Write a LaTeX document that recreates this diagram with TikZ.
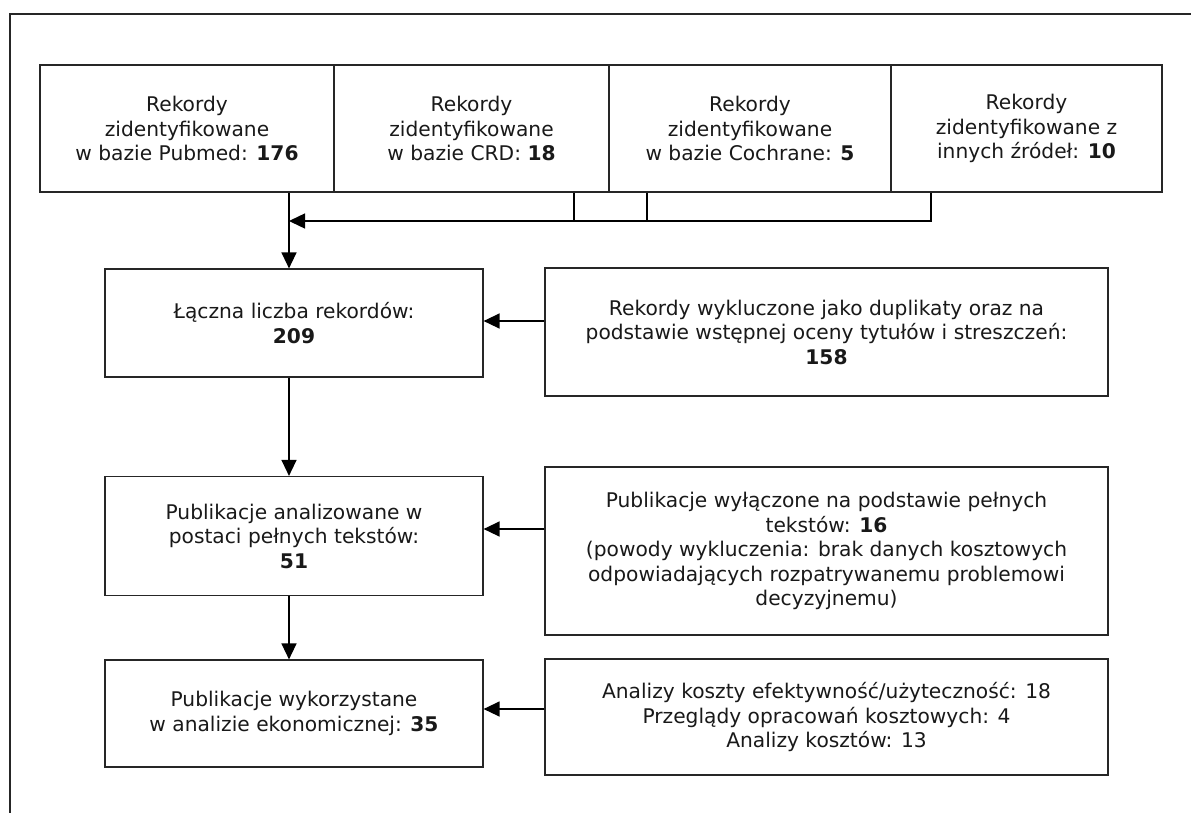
\documentclass[tikz,border=0pt]{standalone}
\usepackage{fontspec}
\setmainfont{DejaVu Sans}
\usetikzlibrary{arrows.meta}
\begin{document}
\begin{tikzpicture}[x=1pt,y=-1pt,
  box/.style={draw=black!85, line width=1.2pt, align=center, inner sep=0pt,
    font=\fontsize{20.2}{24.5}\selectfont, text=black!90},
  conn/.style={draw=black, line width=1.4pt},
  arr/.style={conn, -{Triangle[length=16pt,width=15pt]}}]
\useasboundingbox (0,0) rectangle (1191,812);
\fill[white] (0,0) rectangle (1191,812);
% outer frame (right and bottom edges lie outside the picture)
\draw[line width=1.2pt, black!85] (1195,14) -- (10,14) -- (10,816);

% top row
\node[box, minimum width=294pt, minimum height=127pt] (b1) at (187,128.5)
  {Rekordy\\zidentyfikowane\\w bazie Pubmed: \textbf{176}};
\node[box, minimum width=275pt, minimum height=127pt] (b2) at (471.5,128.5)
  {Rekordy\\zidentyfikowane\\w bazie CRD: \textbf{18}};
\node[box, minimum width=282pt, minimum height=127pt] (b3) at (750,128.5)
  {Rekordy\\zidentyfikowane\\w bazie Cochrane: \textbf{5}};
\node[box, minimum width=271pt, minimum height=127pt] (b4) at (1026.5,128.5)
  {Rekordy\\zidentyfikowane z\\innych źródeł: \textbf{10}};

% left column
\node[box, minimum width=378pt, minimum height=108pt] (l1) at (294,323)
  {Łączna liczba rekordów:\\\textbf{209}};
\node[box, minimum width=378pt, minimum height=119pt] (l2) at (294,536)
  {Publikacje analizowane w\\postaci pełnych tekstów:\\\textbf{51}};
\node[box, minimum width=378pt, minimum height=107pt] (l3) at (294,713.5)
  {Publikacje wykorzystane\\w analizie ekonomicznej: \textbf{35}};

% right column
\node[box, minimum width=563pt, minimum height=128pt] (r1) at (826.5,332)
  {Rekordy wykluczone jako duplikaty oraz na\\podstawie wstępnej oceny tytułów i streszczeń:\\\textbf{158}};
\node[box, minimum width=563pt, minimum height=168pt] (r2) at (826.5,551)
  {Publikacje wyłączone na podstawie pełnych\\tekstów: \textbf{16}\\(powody wykluczenia: brak danych kosztowych\\odpowiadających rozpatrywanemu problemowi\\decyzyjnemu)};
\node[box, minimum width=563pt, minimum height=116pt] (r3) at (826.5,717)
  {Analizy koszty efektywność/użyteczność: 18\\Przeglądy opracowań kosztowych: 4\\Analizy kosztów: 13};

% helper coordinates
\coordinate (ax) at (289,0);
\coordinate (c2) at (574,0);
\coordinate (c3) at (647,0);
\coordinate (c4) at (931,0);
\coordinate (my) at (0,221);
\coordinate (h1) at (0,321);
\coordinate (h2) at (0,529);
\coordinate (h3) at (0,709);

% connectors
\draw[arr] (b1.south -| ax) -- (l1.north -| ax);
\draw[arr] (b4.south -| c4) -- (c4 |- my) -- (ax |- my);
\draw[conn] (b2.south -| c2) -- (c2 |- my);
\draw[conn] (b3.south -| c3) -- (c3 |- my);
\draw[arr] (l1.south -| ax) -- (l2.north -| ax);
\draw[arr] (l2.south -| ax) -- (l3.north -| ax);
\draw[arr] (r1.west |- h1) -- (l1.east |- h1);
\draw[arr] (r2.west |- h2) -- (l2.east |- h2);
\draw[arr] (r3.west |- h3) -- (l3.east |- h3);
\end{tikzpicture}
\end{document}
